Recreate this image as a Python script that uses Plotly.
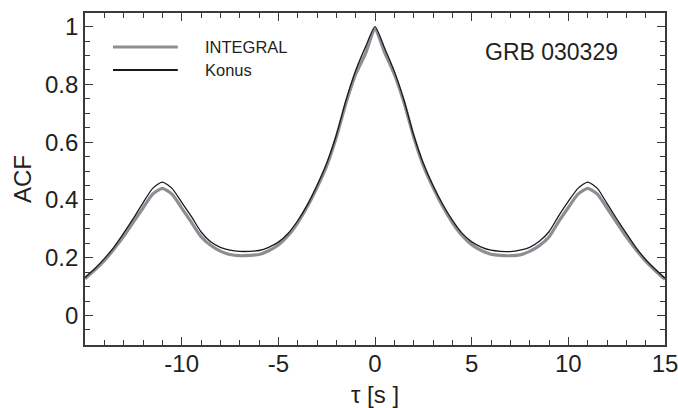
import plotly.graph_objects as go

tau = [-15.0, -14.5, -14.0, -13.5, -13.0, -12.5, -12.0, -11.5, -11.0, -10.5, -10.0,
       -9.5, -9.0, -8.5, -8.0, -7.5, -7.0, -6.5, -6.0, -5.5, -5.0,
       -4.5, -4.0, -3.5, -3.0, -2.5, -2.0, -1.5, -1.0, -0.5, 0.0,
       0.5, 1.0, 1.5, 2.0, 2.5, 3.0, 3.5, 4.0, 4.5, 5.0,
       5.5, 6.0, 6.5, 7.0, 7.5, 8.0, 8.5, 9.0, 9.5, 10.0,
       10.5, 11.0, 11.5, 12.0, 12.5, 13.0, 13.5, 14.0, 14.5, 15.0]

konus = [0.132, 0.162, 0.197, 0.237, 0.285, 0.336, 0.39, 0.44, 0.462, 0.44, 0.392,
         0.343, 0.29, 0.255, 0.236, 0.226, 0.222, 0.222, 0.225, 0.236, 0.254,
         0.284, 0.328, 0.383, 0.45, 0.527, 0.625, 0.745, 0.848, 0.928, 1.0,
         0.925, 0.845, 0.745, 0.625, 0.527, 0.45, 0.385, 0.33, 0.285, 0.255,
         0.237, 0.226, 0.222, 0.221, 0.226, 0.236, 0.257, 0.29, 0.345, 0.395,
         0.44, 0.462, 0.44, 0.388, 0.335, 0.284, 0.235, 0.194, 0.16, 0.129]

integral = [0.127, 0.157, 0.19, 0.23, 0.274, 0.323, 0.372, 0.42, 0.44, 0.42, 0.372,
            0.323, 0.273, 0.243, 0.223, 0.211, 0.207, 0.208, 0.211, 0.224, 0.244,
            0.276, 0.321, 0.377, 0.443, 0.518, 0.617, 0.735, 0.835, 0.905, 0.99,
            0.91, 0.835, 0.737, 0.618, 0.519, 0.444, 0.378, 0.322, 0.277, 0.245,
            0.225, 0.212, 0.208, 0.207, 0.21, 0.222, 0.242, 0.272, 0.325, 0.374,
            0.42, 0.44, 0.42, 0.372, 0.322, 0.272, 0.228, 0.188, 0.155, 0.125]

x_range = [-15, 15]
y_range = [-0.102, 1.047]
x_tickvals = [-10, -5, 0, 5, 10, 15]
x_ticktext = ["-10", "-5", "0", "5", "10", "15"]
y_tickvals = [0, 0.2, 0.4, 0.6, 0.8, 1.0]
y_ticktext = ["0", "0.2", "0.4", "0.6", "0.8", "1"]

series_names = ["INTEGRAL", "Konus"]
title_text = "GRB 030329"

TXT = "#231f20"
AX = "#3a3a3a"
GRAY = "#8b8f94"
FONT = "Liberation Sans"

fig = go.Figure()
fig.add_trace(go.Scatter(x=tau, y=integral, mode="lines", name=series_names[0],
                         line=dict(color=GRAY, width=3.2, shape="spline", smoothing=0.6),
                         showlegend=False))
fig.add_trace(go.Scatter(x=tau, y=konus, mode="lines", name=series_names[1],
                         line=dict(color="#1a1a1a", width=1.3, shape="spline", smoothing=0.6),
                         showlegend=False))
# invisible trace to carry the mirrored (top/right) axes
fig.add_trace(go.Scatter(x=[x_range[0]], y=[y_range[0]], xaxis="x2", yaxis="y2", mode="markers",
                         marker=dict(opacity=0), hoverinfo="skip", showlegend=False))

tick_common = dict(ticks="inside", tickcolor=AX, tickwidth=1.2, ticklen=8,
                   showgrid=False, zeroline=False, automargin=False,
                   ticklabeloverflow="allow",
                   tickfont=dict(family=FONT, size=24, color=TXT))
xminor = dict(dtick=1, tick0=0, ticks="inside", ticklen=5, tickwidth=1.2, tickcolor=AX)
yminor = dict(dtick=0.05, tick0=0, ticks="inside", ticklen=5, tickwidth=1.2, tickcolor=AX)

fig.update_layout(
    xaxis=dict(range=x_range, tickmode="array", tickvals=x_tickvals, ticktext=x_ticktext,
               minor=xminor, showline=True, linecolor=AX, linewidth=1.6, ticklabelstandoff=-4,
               title=dict(text="τ [s ]", font=dict(family=FONT, size=24, color=TXT), standoff=18),
               **tick_common),
    yaxis=dict(range=y_range, tickmode="array", tickvals=y_tickvals, ticktext=y_ticktext,
               minor=yminor, showline=True, linecolor=AX, linewidth=1.6,
               title=dict(text="ACF", font=dict(family=FONT, size=24, color=TXT), standoff=7),
               **tick_common),
    xaxis2=dict(range=x_range, overlaying="x", side="top", anchor="y2", tickmode="array",
                tickvals=x_tickvals, showticklabels=False, minor=xminor,
                showline=True, linecolor=AX, linewidth=1.6, **tick_common),
    yaxis2=dict(range=y_range, overlaying="y", side="right", anchor="x2", tickmode="array",
                tickvals=y_tickvals, showticklabels=False, minor=yminor,
                showline=True, linecolor=AX, linewidth=1.6, **tick_common),
)

# manual legend
leg_y = [0.8976, 0.828]
leg_col = [GRAY, "#1a1a1a"]
leg_w = [3.2, 2.0]
for i in range(2):
    fig.add_shape(type="line", xref="paper", yref="paper", x0=0.0483, x1=0.160,
                  y0=leg_y[i], y1=leg_y[i], line=dict(color=leg_col[i], width=leg_w[i]))
    fig.add_annotation(xref="paper", yref="paper", x=0.2034, y=leg_y[i], text=series_names[i],
                       showarrow=False, xanchor="left", yanchor="middle",
                       font=dict(family=FONT, size=16.5, color=TXT))

fig.add_annotation(xref="paper", yref="paper", x=0.9224, y=0.8825, text=title_text,
                   showarrow=False, xanchor="right", yanchor="middle",
                   font=dict(family=FONT, size=23, color=TXT))

fig.update_layout(width=678, height=408, margin=dict(l=85, r=13, t=13, b=63),
                  plot_bgcolor="white", paper_bgcolor="white", showlegend=False)

fig.write_html("out.html", config={"displayModeBar": False},
               post_script="document.body.style.margin='0px';document.body.style.overflow='hidden';")
